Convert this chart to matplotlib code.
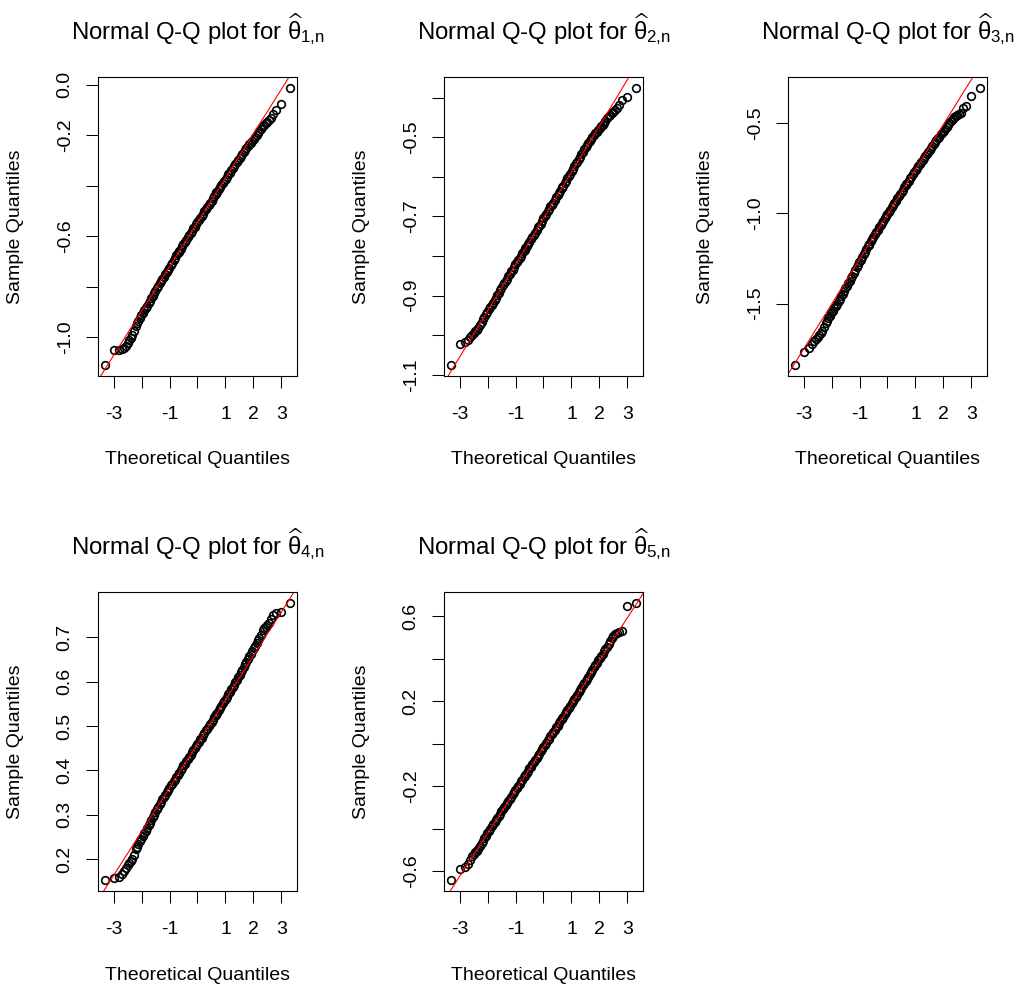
"""
Normal Q-Q plots of the five estimators theta_hat_{k,n} (R base-graphics look).
Sample quantiles are read off the reference at a subset of order-statistic ranks
out of N = 1000 draws; the red reference line goes through the quartiles.
Output: out.png
"""

from statistics import NormalDist

import matplotlib
matplotlib.use("Agg")
import matplotlib.pyplot as plt

plt.rcParams["font.family"] = ["Liberation Sans", "DejaVu Sans"]
plt.rcParams["mathtext.default"] = "regular"

N = 1000

# order-statistic ranks at which the sample quantiles were read
RANKS = [1, 2, 3, 4, 5, 6, 7, 8, 9, 10, 12,
         14, 16, 18, 21, 23, 26, 29, 33, 36, 41, 45, 50, 55, 61, 67, 74, 81,
         89, 97, 106, 116, 126, 136, 147, 159, 172, 185, 198, 212, 227, 243,
         250,
         258, 275, 292, 309, 327, 345, 364, 383, 402, 421, 441, 461, 481,
         500,
         520, 540, 560, 580, 599, 618, 637, 656, 674, 692, 709, 726, 743,
         751,
         758, 774, 789, 803, 816, 829, 842, 854, 865, 875, 885, 895, 904, 912,
         920, 927, 934, 940, 946, 951, 956, 960, 965, 968, 972, 975, 978, 980,
         983, 985, 987,
         989, 991, 992, 993, 994, 995, 996, 997, 998, 999, 1000]
Q1_RANK, Q3_RANK = 250, 751

# ── sample quantiles, one list per estimator ──────────────────────────────────
theta1 = [-1.110, -1.052, -1.050, -1.048, -1.044, -1.035, -1.022, -1.012, -1.002, -0.993, -0.975,
          -0.954, -0.944, -0.935, -0.925, -0.914, -0.904, -0.894, -0.885, -0.875, -0.865, -0.855,
          -0.844, -0.835, -0.825, -0.816, -0.806, -0.796, -0.787, -0.778, -0.768, -0.760, -0.750,
          -0.743, -0.732, -0.724, -0.713, -0.705, -0.695, -0.687, -0.676, -0.668,
          -0.664,
          -0.658, -0.651, -0.640, -0.632, -0.622, -0.614, -0.605, -0.597, -0.587, -0.579, -0.569,
          -0.563, -0.553,
          -0.545,
          -0.535, -0.528, -0.519, -0.511, -0.501, -0.493, -0.483, -0.477, -0.467, -0.459, -0.449,
          -0.440, -0.431,
          -0.426,
          -0.423, -0.413, -0.406, -0.397, -0.390, -0.380, -0.372, -0.364, -0.355, -0.348, -0.339,
          -0.331, -0.322, -0.314, -0.307, -0.298, -0.290, -0.282, -0.274, -0.267, -0.259, -0.251,
          -0.243, -0.235, -0.229, -0.221, -0.214, -0.206, -0.199, -0.192, -0.185,
          -0.175, -0.165, -0.158, -0.152, -0.146, -0.140, -0.132, -0.117, -0.099, -0.076, -0.013]

theta2 = [-1.075, -1.022, -1.018, -1.012, -1.004, -0.999, -0.994, -0.990, -0.987, -0.983, -0.975,
          -0.966, -0.960, -0.955, -0.947, -0.942, -0.935, -0.930, -0.923, -0.918, -0.910, -0.906,
          -0.898, -0.893, -0.885, -0.881, -0.874, -0.869, -0.862, -0.858, -0.850, -0.845, -0.839,
          -0.835, -0.828, -0.821, -0.816, -0.809, -0.806, -0.799, -0.792, -0.787,
          -0.784,
          -0.781, -0.774, -0.769, -0.765, -0.758, -0.751, -0.746, -0.741, -0.734, -0.727, -0.723,
          -0.718, -0.711,
          -0.705,
          -0.698, -0.693, -0.686, -0.682, -0.675, -0.670, -0.665, -0.658, -0.651, -0.647, -0.640,
          -0.635, -0.628,
          -0.626,
          -0.623, -0.616, -0.610, -0.604, -0.599, -0.592, -0.585, -0.580, -0.573, -0.566, -0.562,
          -0.555, -0.549, -0.542, -0.537, -0.530, -0.526, -0.520, -0.515, -0.509, -0.504, -0.499,
          -0.494, -0.490, -0.486, -0.481, -0.477, -0.472, -0.468, -0.463, -0.460,
          -0.452, -0.447, -0.443, -0.440, -0.436, -0.432, -0.427, -0.419, -0.406, -0.399, -0.376]

theta3 = [-1.840, -1.770, -1.745, -1.725, -1.708, -1.695, -1.683, -1.672, -1.662, -1.652, -1.632,
          -1.610, -1.596, -1.582, -1.569, -1.555, -1.541, -1.527, -1.514, -1.500, -1.487, -1.473,
          -1.459, -1.445, -1.431, -1.416, -1.403, -1.388, -1.374, -1.359, -1.345, -1.330, -1.316,
          -1.300, -1.287, -1.272, -1.257, -1.242, -1.228, -1.213, -1.199, -1.183,
          -1.174,
          -1.171, -1.155, -1.141, -1.129, -1.116, -1.104, -1.090, -1.078, -1.065, -1.053, -1.040,
          -1.028, -1.016,
          -1.004,
          -0.991, -0.979, -0.966, -0.955, -0.942, -0.931, -0.917, -0.905, -0.892, -0.881, -0.868,
          -0.854, -0.844,
          -0.837,
          -0.830, -0.819, -0.807, -0.796, -0.784, -0.773, -0.761, -0.750, -0.738, -0.727, -0.715,
          -0.705, -0.693, -0.683, -0.671, -0.661, -0.649, -0.639, -0.627, -0.617, -0.606, -0.596,
          -0.585, -0.575, -0.563, -0.553, -0.542, -0.532, -0.521, -0.511, -0.500,
          -0.490, -0.475, -0.468, -0.462, -0.455, -0.450, -0.444, -0.417, -0.404, -0.352, -0.306]

theta4 = [0.153, 0.157, 0.160, 0.166, 0.173, 0.180, 0.186, 0.191, 0.196, 0.201, 0.210,
          0.222, 0.228, 0.234, 0.240, 0.246, 0.252, 0.258, 0.264, 0.270, 0.276, 0.282,
          0.288, 0.294, 0.300, 0.306, 0.312, 0.318, 0.324, 0.329, 0.335, 0.339, 0.345,
          0.351, 0.355, 0.360, 0.366, 0.369, 0.375, 0.379, 0.385, 0.389,
          0.393,
          0.395, 0.401, 0.405, 0.411, 0.415, 0.421, 0.425, 0.431, 0.435, 0.441, 0.445,
          0.451, 0.455,
          0.460,
          0.464, 0.470, 0.474, 0.480, 0.484, 0.490, 0.494, 0.500, 0.504, 0.510, 0.514,
          0.520, 0.524,
          0.527,
          0.530, 0.535, 0.541, 0.545, 0.551, 0.556, 0.561, 0.566, 0.572, 0.577, 0.583,
          0.588, 0.593, 0.599, 0.604, 0.610, 0.615, 0.621, 0.627, 0.633, 0.639, 0.645,
          0.651, 0.657, 0.663, 0.669, 0.675, 0.681, 0.687, 0.693, 0.699,
          0.706, 0.716, 0.720, 0.724, 0.728, 0.733, 0.740, 0.750, 0.755, 0.757, 0.777]

theta5 = [-0.641, -0.589, -0.581, -0.565, -0.548, -0.530, -0.519, -0.510, -0.504, -0.497, -0.482,
          -0.468, -0.456, -0.444, -0.432, -0.421, -0.410, -0.399, -0.389, -0.378, -0.369, -0.358,
          -0.349, -0.338, -0.329, -0.318, -0.309, -0.299, -0.289, -0.278, -0.269, -0.259, -0.250,
          -0.238, -0.229, -0.218, -0.210, -0.199, -0.189, -0.177, -0.169, -0.158,
          -0.153,
          -0.147, -0.138, -0.127, -0.116, -0.108, -0.097, -0.085, -0.077, -0.066, -0.055, -0.047,
          -0.035, -0.024,
          -0.015,
          -0.006, 0.005, 0.017, 0.025, 0.036, 0.047, 0.055, 0.067, 0.078, 0.086, 0.097,
          0.108, 0.117,
          0.122,
          0.128, 0.139, 0.148, 0.159, 0.170, 0.179, 0.190, 0.200, 0.211, 0.222, 0.232,
          0.243, 0.253, 0.264, 0.275, 0.286, 0.296, 0.307, 0.317, 0.329, 0.339, 0.350,
          0.360, 0.371, 0.382, 0.393, 0.403, 0.414, 0.424, 0.436, 0.446,
          0.458, 0.472, 0.484, 0.498, 0.508, 0.515, 0.520, 0.525, 0.532, 0.650, 0.663]

SAMPLES = [theta1, theta2, theta3, theta4, theta5]

# ── axis ticks (R drops labels that would overlap) ────────────────────────────
XTICKS = [-3, -2, -1, 0, 1, 2, 3]
XTICKLABELS = ["-3", "", "-1", "", "1", "2", "3"]

YTICKS = [
    [-1.0, -0.8, -0.6, -0.4, -0.2, 0.0],
    [-1.1, -1.0, -0.9, -0.8, -0.7, -0.6, -0.5, -0.4],
    [-1.5, -1.0, -0.5],
    [0.2, 0.3, 0.4, 0.5, 0.6, 0.7],
    [-0.6, -0.4, -0.2, 0.0, 0.2, 0.4, 0.6],
]
YTICKLABELS = [
    ["-1.0", "", "-0.6", "", "-0.2", "0.0"],
    ["-1.1", "", "-0.9", "", "-0.7", "", "-0.5", ""],
    ["-1.5", "-1.0", "-0.5"],
    ["0.2", "0.3", "0.4", "0.5", "0.6", "0.7"],
    ["-0.6", "", "-0.2", "", "0.2", "", "0.6"],
]

# theoretical quantiles, R ppoints() convention
nd = NormalDist()
theo = [nd.inv_cdf((r - 0.5) / N) for r in RANKS]
i_q1, i_q3 = RANKS.index(Q1_RANK), RANKS.index(Q3_RANK)

# ── layout (pixels on a 1020 x 990 canvas) ────────────────────────────────────
W, H = 1020, 990
AX_W, AX_H = 199, 299
LEFTS = [98, 444, 788, 98, 444]
TOPS = [77, 77, 77, 592, 592]


def r_lim(vals):
    lo, hi = min(vals), max(vals)
    pad = 0.04 * (hi - lo)
    return lo - pad, hi + pad


fig = plt.figure(figsize=(W / 100, H / 100), dpi=100)

for k, y in enumerate(SAMPLES):
    assert len(y) == len(RANKS)
    ax = fig.add_axes([LEFTS[k] / W, 1 - (TOPS[k] + AX_H) / H, AX_W / W, AX_H / H])

    ax.plot(theo, y, linestyle="none", marker="o", markersize=5.5,
            markerfacecolor="none", markeredgecolor="black", markeredgewidth=1.2)
    # qqline: through the first and third quartiles
    ax.axline((theo[i_q1], y[i_q1]), (theo[i_q3], y[i_q3]), color="red", linewidth=0.8)

    ax.set_xlim(r_lim(theo))
    ax.set_ylim(r_lim(y))

    ax.set_xticks(XTICKS)
    ax.set_xticklabels(XTICKLABELS)
    ax.set_yticks(YTICKS[k])
    ax.set_yticklabels(YTICKLABELS[k], rotation=90, va="center")
    ax.tick_params(direction="out", length=8.5, width=0.75, labelsize=14, colors="black")
    ax.tick_params(axis="x", pad=13)
    ax.tick_params(axis="y", pad=9)
    for s in ax.spines.values():
        s.set_linewidth(0.8)

    ax.set_xlabel("Theoretical Quantiles", fontsize=14, va="center")
    ax.xaxis.set_label_coords(0.5, -84 / AX_H)
    ax.set_ylabel("Sample Quantiles", fontsize=14, va="center")
    ax.yaxis.set_label_coords(-82 / AX_W, 0.5)

    ax.text(0.5, 1 + 37.5 / AX_H,
            r"Normal Q-Q plot for $\widehat{\theta}_{%d{,}n}$" % (k + 1),
            transform=ax.transAxes, ha="center", va="baseline", fontsize=17.3)

fig.savefig("out.png", dpi=100, facecolor="white")
